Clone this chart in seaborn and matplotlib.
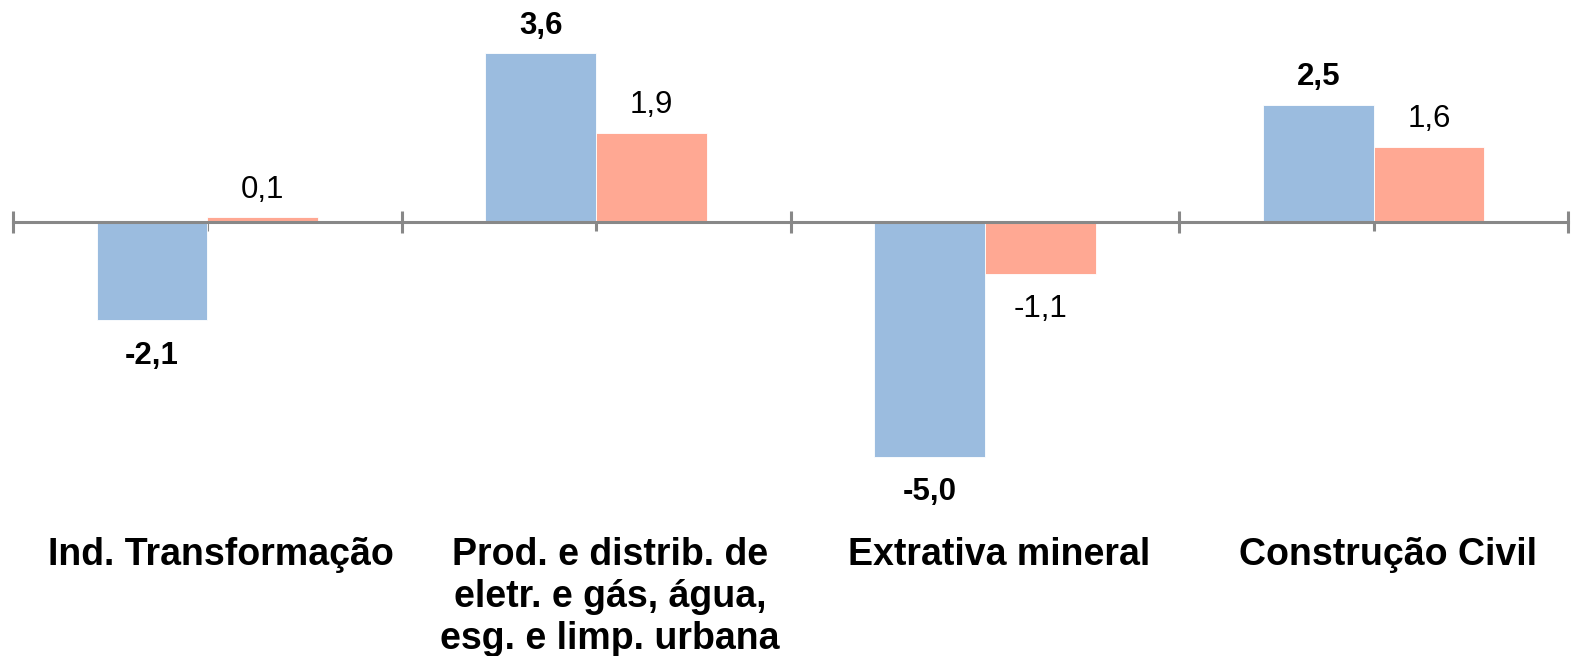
import pandas as pd
import seaborn as sns
import matplotlib.pyplot as plt
from matplotlib.ticker import FixedLocator

categorias = ["Ind. Transformação",
              "Prod. e distrib. de\neletr. e gás, água,\nesg. e limp. urbana",
              "Extrativa mineral",
              "Construção Civil"]
series = ["Série 1", "Série 2"]
valores_s1 = [-2.1, 3.6, -5.0, 2.5]
valores_s2 = [0.1, 1.9, -1.1, 1.6]
cores = ["#9bbcdf", "#ffa893"]

def fmt(v):
    return f"{v:.1f}".replace(".", ",")

def main():
    df = pd.DataFrame({
        "categoria": categorias * 2,
        "serie": [series[0]] * 4 + [series[1]] * 4,
        "valor": valores_s1 + valores_s2,
    })

    sns.set_style("white")
    plt.rcParams["font.family"] = ["Liberation Sans", "DejaVu Sans"]

    fig = plt.figure(figsize=(15.73, 6.56), dpi=100)
    ax = fig.add_axes([13 / 1573, 0, 1555 / 1573, 1])

    sns.barplot(data=df, x="categoria", y="valor", hue="serie", order=categorias,
                hue_order=series, palette=cores, width=0.57, gap=0, ax=ax,
                legend=False, edgecolor="white", linewidth=0.6, saturation=1)

    ax.set_xlim(-0.5, 3.5)
    ax.set_ylim(-(656 - 222) / 46.9, 222 / 46.9)

    for s in ["top", "right", "left"]:
        ax.spines[s].set_visible(False)
    ax.spines["bottom"].set_position(("data", 0))
    ax.spines["bottom"].set_color("#888888")
    ax.spines["bottom"].set_linewidth(2.2)
    ax.spines["bottom"].set_zorder(3)

    ax.set_yticks([])
    ax.set_ylabel("")
    ax.set_xlabel("")
    ax.xaxis.set_major_locator(FixedLocator([-0.5, 0.5, 1.5, 2.5, 3.5]))
    ax.xaxis.set_minor_locator(FixedLocator([0, 1, 2, 3]))
    ax.set_xticklabels([])
    ax.tick_params(axis="x", which="major", direction="inout", length=16,
                   width=2.2, color="#888888", bottom=True)
    ax.tick_params(axis="x", which="minor", direction="out", length=6.5,
                   width=2.2, color="#888888", bottom=True)

    # rótulos de valor
    for i, (a, b) in enumerate(zip(valores_s1, valores_s2)):
        for v, dx, peso in [(a, -0.1425, "bold"), (b, 0.1425, "normal")]:
            off = 9 if v >= 0 else -15
            ax.annotate(fmt(v), (i + dx, v), xytext=(0, off), textcoords="offset points",
                        ha="center", va="bottom" if v >= 0 else "top",
                        fontsize=22.5, fontweight=peso, color="black")

    # rótulos das categorias
    for i, c in enumerate(categorias):
        ax.annotate(c, (i, -(537 - 222) / 46.9), xytext=(10, 0), textcoords="offset points",
                    ha="center", va="top", multialignment="center",
                    fontsize=27, fontweight="bold", linespacing=1.22, color="black")

    fig.savefig("out.png", dpi=100)
    plt.close(fig)

if __name__ == "__main__":
    main()
